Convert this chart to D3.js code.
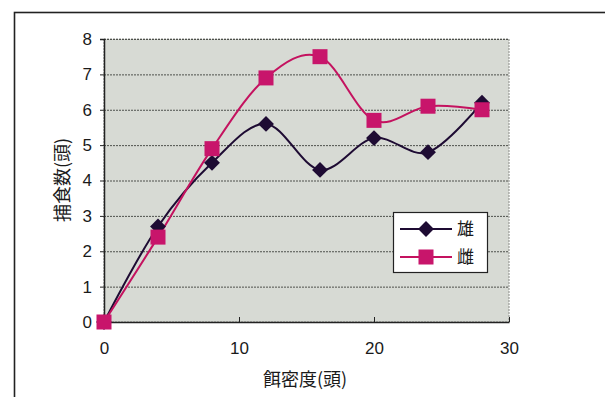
<!DOCTYPE html>
<html>
<head>
<meta charset="utf-8">
<script src="https://cdn.jsdelivr.net/npm/d3@7"></script>
<style>
  html, body { margin: 0; padding: 0; background: #ffffff; }
  svg { display: block; }
  text { font-family: "Noto Sans CJK JP", "Liberation Sans", Arial, sans-serif; fill: #1a1a1a; }
</style>
</head>
<body>
<svg id="chart" width="605" height="397"></svg>
<script>
// Prey density (x) vs. number of prey eaten (y), by sex
const density = [0, 4, 8, 12, 16, 20, 24, 28];
const male = [0, 2.7, 4.5, 5.6, 4.3, 5.2, 4.8, 6.2];
const female = [0, 2.4, 4.9, 6.9, 7.5, 5.7, 6.1, 6.0];
const seriesNames = ["雄", "雌"];
const xTicks = [0, 10, 20, 30];
const yTicks = [0, 1, 2, 3, 4, 5, 6, 7, 8];
const xTitle = "餌密度(頭)";
const yTitle = "捕食数(頭)";

const svg = d3.select("#chart");

// outer frame
svg.append("rect")
  .attr("x", 14.5).attr("y", 12.5)
  .attr("width", 640).attr("height", 420)
  .attr("fill", "none").attr("stroke", "#222").attr("stroke-width", 1.6);

const plot = { left: 104, top: 39, right: 509, bottom: 322 };
const x = d3.scaleLinear().domain([0, 30]).range([plot.left, plot.right]);
const y = d3.scaleLinear().domain([0, 8]).range([plot.bottom, plot.top]);

// plot background
svg.append("rect")
  .attr("x", plot.left).attr("y", plot.top)
  .attr("width", plot.right - plot.left).attr("height", plot.bottom - plot.top)
  .attr("fill", "#d7dad4")
  .attr("stroke", "#8a8d88").attr("stroke-width", 1).attr("stroke-dasharray", "2,1");

// horizontal gridlines
svg.append("g")
  .selectAll("line")
  .data(yTicks.filter(d => d > 0))
  .join("line")
  .attr("x1", plot.left).attr("x2", plot.right)
  .attr("y1", d => y(d) + 0.5).attr("y2", d => y(d) + 0.5)
  .attr("stroke", "#4e504c").attr("stroke-width", 1).attr("stroke-dasharray", "2,1");

// y axis
const yAxis = svg.append("g")
  .attr("transform", `translate(${plot.left},0)`)
  .call(d3.axisLeft(y).tickValues(yTicks).tickSize(4).tickPadding(8).tickFormat(d3.format("d")));
yAxis.select(".domain").attr("stroke", "#222").attr("stroke-width", 1.5);
yAxis.selectAll(".tick line").attr("stroke", "#222");
yAxis.selectAll("text").attr("font-size", 17).attr("fill", "#111")
  .style("font-family", "'Liberation Sans', Arial, sans-serif");

// x axis, ticks pointing inward
const xAxis = svg.append("g")
  .attr("transform", `translate(0,${plot.bottom})`)
  .call(d3.axisBottom(x).tickValues(xTicks).tickSizeInner(-5).tickSizeOuter(0).tickPadding(20).tickFormat(d3.format("d")));
xAxis.select(".domain").attr("stroke", "#222").attr("stroke-width", 1.5);
xAxis.selectAll(".tick line").attr("stroke", "#222");
xAxis.selectAll("text").attr("font-size", 17).attr("fill", "#111")
  .style("font-family", "'Liberation Sans', Arial, sans-serif");

// axis titles
svg.append("text")
  .attr("x", 305).attr("y", 386)
  .attr("text-anchor", "middle").attr("font-size", 18)
  .text(xTitle);
svg.append("text")
  .attr("transform", "translate(69,180) rotate(-90)")
  .attr("text-anchor", "middle").attr("font-size", 18)
  .text(yTitle);

// smoothed lines
const line = d3.line()
  .x((d, i) => x(density[i]))
  .y(d => y(d))
  .curve(d3.curveCatmullRom.alpha(0));

const colors = ["#1e0b33", "#c4125f"];
const markerFill = ["#1e0b33", "#c8156b"];

svg.append("path").datum(male)
  .attr("d", line).attr("fill", "none")
  .attr("stroke", colors[0]).attr("stroke-width", 2);
svg.append("path").datum(female)
  .attr("d", line).attr("fill", "none")
  .attr("stroke", colors[1]).attr("stroke-width", 2);

const diamond = d3.symbol().type(d3.symbolDiamond2).size(160);

svg.append("g").selectAll("path")
  .data(male)
  .join("path")
  .attr("transform", (d, i) => `translate(${x(density[i])},${y(d)})`)
  .attr("d", diamond)
  .attr("fill", markerFill[0]);

const sq = 15;
svg.append("g").selectAll("rect")
  .data(female)
  .join("rect")
  .attr("x", (d, i) => x(density[i]) - sq / 2)
  .attr("y", d => y(d) - sq / 2)
  .attr("width", sq).attr("height", sq)
  .attr("fill", markerFill[1]);

// legend
const lg = svg.append("g").attr("transform", "translate(393,212)");
lg.append("rect")
  .attr("x", 0.5).attr("y", 0.5).attr("width", 94).attr("height", 60)
  .attr("fill", "#ffffff").attr("stroke", "#222").attr("stroke-width", 1.2);
seriesNames.forEach((name, i) => {
  const cy = 17 + i * 28;
  lg.append("line")
    .attr("x1", 7).attr("x2", 59).attr("y1", cy).attr("y2", cy)
    .attr("stroke", colors[i]).attr("stroke-width", 2);
  if (i === 0) {
    lg.append("path").attr("transform", `translate(33,${cy})`)
      .attr("d", diamond).attr("fill", markerFill[0]);
  } else {
    lg.append("rect").attr("x", 33 - sq / 2).attr("y", cy - sq / 2)
      .attr("width", sq).attr("height", sq).attr("fill", markerFill[1]);
  }
  lg.append("text")
    .attr("x", 64).attr("y", cy + 6)
    .attr("font-size", 17)
    .text(name);
});
</script>
</body>
</html>
